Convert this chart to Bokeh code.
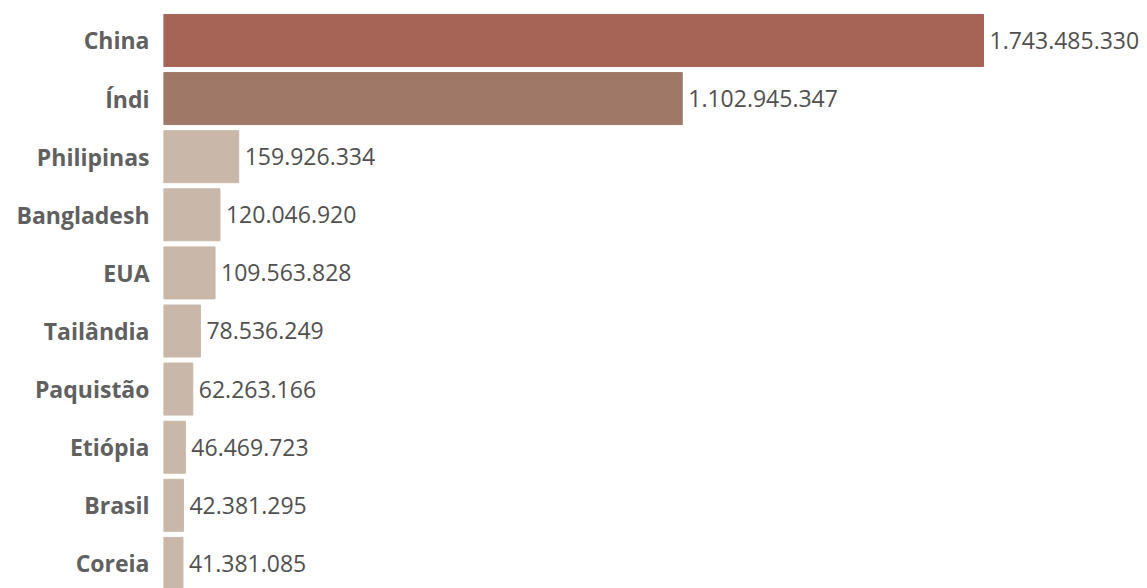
from bokeh.plotting import figure
from bokeh.models import Range1d, FixedTicker, ColumnDataSource
from bokeh.embed import file_html
from bokeh.resources import INLINE

countries = ["China", "Índi", "Philipinas", "Bangladesh", "EUA", "Tailândia",
             "Paquistão", "Etiópia", "Brasil", "Coreia"]
values = [1743485330, 1102945347, 159926334, 120046920, 109563828, 78536249,
          62263166, 46469723, 42381295, 41381085]
labels = ["1.743.485.330", "1.102.945.347", "159.926.334", "120.046.920", "109.563.828",
          "78.536.249", "62.263.166", "46.469.723", "42.381.295", "41.381.085"]
colors = ["#A56456", "#A07868"] + ["#C9B8A9"] * 8

idx = list(range(len(countries)))
src = ColumnDataSource(dict(y=idx, v=values, lab=labels, c=colors))

p = figure(width=1147, height=588, output_backend="svg", toolbar_location=None,
           x_range=Range1d(0, 2.0922e9), y_range=Range1d(9.432, -0.688),
           min_border_left=163, min_border_right=0, min_border_top=0, min_border_bottom=0)
p.hbar(y="y", right="v", left=0, height=0.895, color="c", source=src)
p.text(x="v", y="y", text="lab", source=src, x_offset=6, text_baseline="middle",
       text_align="left", text_font_size="23px", text_color="#505050",
       text_font={"value": "Open Sans"})

p.xaxis.visible = False
p.yaxis.ticker = FixedTicker(ticks=idx)
p.yaxis.major_label_overrides = {i: c for i, c in zip(idx, countries)}
p.yaxis.major_label_text_font = "Open Sans"
p.yaxis.major_label_text_font_style = "bold"
p.yaxis.major_label_text_font_size = "23px"
p.yaxis.major_label_text_color = "#606060"
p.yaxis.major_label_standoff = 8
p.yaxis.major_tick_line_color = None
p.yaxis.minor_tick_line_color = None
p.yaxis.axis_line_color = None
p.grid.visible = False
p.outline_line_color = None

open("out.html", "w").write(file_html(p, INLINE))
